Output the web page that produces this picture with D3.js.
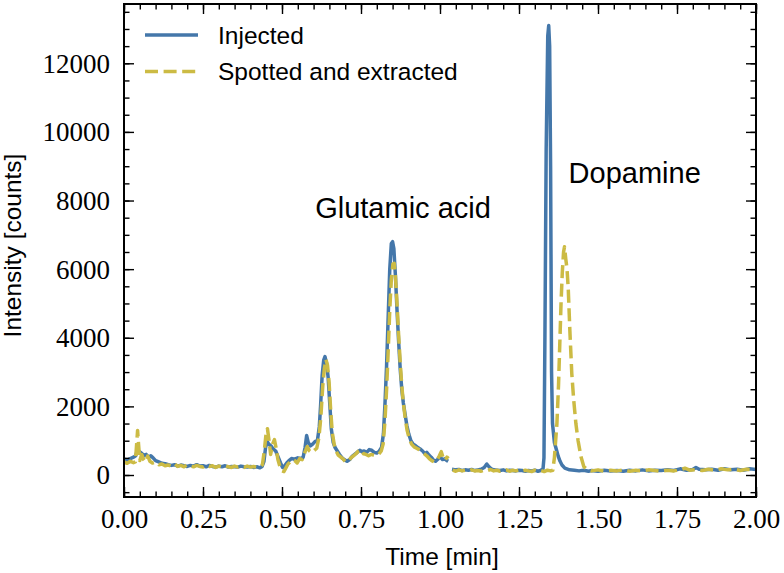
<!DOCTYPE html>
<html>
<head>
<meta charset="utf-8">
<script src="https://cdn.jsdelivr.net/npm/d3@7"></script>
<style>
  html, body { margin: 0; padding: 0; background: #fff; }
  svg { display: block; }
</style>
</head>
<body>
<svg id="chart" width="784" height="573"></svg>
<script>
// ---------- data (time [min], intensity [counts]); null = gap ----------
const seriesNames = ["Injected", "Spotted and extracted"];
const seriesColors = ["#4477AA", "#CCBB44"];
const xTickValues = [0, 0.25, 0.5, 0.75, 1.0, 1.25, 1.5, 1.75, 2.0];
const yTickValues = [0, 2000, 4000, 6000, 8000, 10000, 12000];
const annotations = [
  { text: "Glutamic acid", t: 0.605, v: 7500 },
  { text: "Dopamine", t: 1.407, v: 8520 }
];

const injected = [
  [0.000,460],[0.010,430],[0.020,480],[0.030,520],[0.037,560],[0.042,720],[0.047,700],
  [0.055,640],[0.063,560],[0.070,600],[0.078,520],[0.085,560],[0.092,500],[0.100,420],
  [0.110,380],[0.120,340],[0.130,330],[0.140,300],[0.150,280],[0.160,300],[0.170,260],
  [0.180,290],[0.190,270],[0.200,250],[0.210,280],[0.220,260],[0.230,300],[0.240,260],
  [0.250,270],[0.260,240],[0.270,280],[0.280,250],[0.290,230],[0.300,260],[0.310,240],
  [0.320,270],[0.330,230],[0.340,250],[0.350,240],[0.360,230],[0.370,260],[0.380,240],
  [0.390,230],[0.400,250],[0.410,220],[0.420,240],[0.430,210],[0.437,250],[0.443,400],
  [0.448,800],[0.453,980],[0.458,900],[0.465,850],[0.472,760],[0.480,700],[0.488,520],
  [0.495,360],[0.502,220],[0.508,260],[0.515,350],[0.522,420],[0.530,480],[0.540,460],
  [0.550,500],[0.560,480],[0.567,520],[0.573,800],[0.578,1150],[0.583,950],[0.590,850],
  [0.597,900],[0.605,980],[0.612,1000],[0.618,1400],[0.622,2000],[0.627,2900],[0.632,3350],
  [0.636,3450],[0.641,3250],[0.646,2850],[0.651,2100],[0.656,1350],[0.662,950],[0.668,800],
  [0.675,700],[0.682,600],[0.690,500],[0.698,440],[0.706,400],[0.714,450],[0.722,540],
  [0.730,600],[0.738,660],[0.746,720],[0.753,680],[0.760,700],[0.768,660],[0.776,740],
  [0.784,720],[0.792,660],[0.800,640],[0.808,700],[0.815,800],[0.821,1200],[0.826,2100],
  [0.831,3200],[0.836,4600],[0.841,6000],[0.846,6750],[0.850,6800],[0.854,6600],[0.859,5800],
  [0.864,4800],[0.869,3900],[0.874,3100],[0.879,2500],[0.884,2100],[0.889,1800],[0.895,1450],
  [0.901,1200],[0.908,1000],[0.915,900],[0.922,860],[0.930,800],[0.937,760],[0.945,700],
  [0.952,620],[0.958,660],[0.965,580],[0.972,520],[0.979,440],[0.986,400],[0.993,460],
  [1.000,530],[1.008,450],[1.015,470],[1.022,420],[1.026,400],
  [1.032,null],
  [1.038,170],[1.050,150],[1.060,160],[1.070,130],[1.080,150],[1.090,140],[1.100,160],
  [1.110,130],[1.120,150],[1.130,170],[1.140,220],[1.148,320],[1.155,240],[1.162,180],
  [1.170,150],[1.180,140],[1.190,130],[1.200,150],[1.210,120],[1.220,140],[1.230,130],
  [1.240,120],[1.250,140],[1.260,130],[1.270,110],[1.280,130],[1.290,120],[1.300,140],
  [1.310,110],[1.318,130],[1.326,180],[1.329,500],[1.332,4000],[1.336,9500],[1.341,12800],
  [1.344,13100],[1.347,12500],[1.350,9000],[1.353,3000],[1.356,1500],[1.362,950],
  [1.368,750],[1.374,550],[1.380,400],[1.386,290],[1.395,200],[1.410,150],[1.425,140],
  [1.440,120],[1.455,140],[1.470,110],[1.480,130],[1.500,110],[1.520,140],[1.540,120],
  [1.560,130],[1.580,110],[1.600,140],[1.620,120],[1.640,150],[1.660,120],[1.680,140],
  [1.700,130],[1.720,150],[1.740,130],[1.760,180],[1.780,140],[1.800,160],[1.810,220],
  [1.820,170],[1.840,150],[1.860,170],[1.880,140],[1.900,180],[1.920,150],[1.940,170],
  [1.960,140],[1.980,180],[2.000,160]
];

const spotted = [
  [0.000,380],[0.010,340],[0.020,400],[0.030,360],[0.036,380],[0.040,900],[0.043,1300],
  [0.046,900],[0.050,420],[0.056,600],[0.062,450],[0.068,380],[0.075,550],[0.082,400],
  [0.090,350],[0.100,380],[0.110,300],[0.120,320],[0.130,270],[0.140,290],[0.150,260],
  [0.160,330],[0.170,250],[0.180,280],[0.190,240],[0.200,300],[0.210,260],[0.220,240],
  [0.230,280],[0.240,250],[0.250,230],[0.260,290],[0.270,250],[0.280,270],[0.290,220],
  [0.300,260],[0.310,230],[0.320,270],[0.330,240],[0.340,220],[0.350,260],[0.360,230],
  [0.370,250],[0.380,220],[0.390,260],[0.400,230],[0.410,250],[0.420,220],[0.430,240],
  [0.438,300],[0.444,700],[0.449,1150],[0.454,1350],[0.459,1000],[0.464,600],[0.470,900],
  [0.476,1030],[0.481,800],[0.487,450],[0.494,230],[0.500,120],[0.506,100],[0.512,200],
  [0.519,320],[0.526,380],[0.533,450],[0.540,420],[0.548,350],[0.556,480],[0.564,450],
  [0.572,650],[0.580,830],[0.587,700],[0.594,650],[0.602,720],[0.610,780],[0.617,1100],
  [0.623,1700],[0.629,2600],[0.634,3100],[0.639,3370],[0.644,3200],[0.649,2700],[0.654,1900],
  [0.659,1250],[0.665,900],[0.671,700],[0.678,580],[0.686,520],[0.694,460],[0.702,380],
  [0.710,400],[0.718,500],[0.726,560],[0.734,620],[0.742,700],[0.750,740],[0.758,620],
  [0.766,600],[0.774,560],[0.782,600],[0.790,580],[0.798,560],[0.806,600],[0.814,700],
  [0.820,900],[0.826,1600],[0.831,2500],[0.836,3600],[0.841,4800],[0.846,5700],[0.851,6150],
  [0.855,6170],[0.859,5800],[0.864,5000],[0.869,4100],[0.874,3300],[0.879,2600],[0.884,2100],
  [0.890,1650],[0.896,1300],[0.903,1050],[0.910,900],[0.918,820],[0.926,780],[0.934,740],
  [0.942,680],[0.950,620],[0.958,560],[0.966,480],[0.974,420],[0.982,380],[0.990,420],
  [0.998,560],[1.004,680],[1.010,500],[1.016,420],[1.022,520],[1.027,480],
  [1.033,null],
  [1.040,140],[1.050,110],[1.060,150],[1.070,120],[1.080,140],[1.090,110],[1.100,150],
  [1.110,120],[1.120,130],[1.130,110],[1.140,150],[1.150,130],[1.160,160],[1.170,120],
  [1.180,140],[1.190,110],[1.200,130],[1.210,150],[1.220,110],[1.230,140],[1.240,120],
  [1.250,150],[1.260,110],[1.270,140],[1.280,120],[1.290,100],[1.300,140],[1.310,110],
  [1.320,130],[1.330,100],[1.340,140],[1.350,120],[1.357,140],[1.362,500],[1.366,1000],
  [1.370,1500],[1.375,2600],[1.379,3800],[1.383,5000],[1.387,5900],[1.391,6500],[1.394,6650],
  [1.398,6300],[1.402,6000],[1.406,5400],[1.411,4200],[1.417,2965],[1.423,2200],[1.430,1500],
  [1.437,1000],[1.446,540],[1.455,250],[1.465,160],[1.480,120],[1.500,150],[1.520,110],
  [1.540,140],[1.560,120],[1.580,150],[1.600,110],[1.620,140],[1.640,120],[1.660,150],
  [1.680,130],[1.700,110],[1.720,140],[1.740,120],[1.760,150],[1.775,200],[1.790,140],
  [1.810,160],[1.830,130],[1.850,170],[1.870,140],[1.890,180],[1.910,150],[1.930,170],
  [1.950,130],[1.970,170],[1.990,150],[2.000,180]
];

// ---------- layout ----------
const svg = d3.select("#chart");
const pL = 124, pR = 756, pT = 4, pB = 497;

const x = d3.scaleLinear().domain([0, 2]).range([pL, pR]);
const y = d3.scaleLinear().domain([-641, 13728]).range([pB, pT]);

const serif = "'Liberation Serif', 'DejaVu Serif', serif";
const sans = "'Liberation Sans', Arial, Helvetica, sans-serif";

svg.append("defs").append("clipPath").attr("id", "plotclip")
  .append("rect").attr("x", pL).attr("y", pT)
  .attr("width", pR - pL).attr("height", pB - pT);

// ---------- data lines ----------
const line = d3.line()
  .defined(d => d[1] !== null)
  .x(d => x(d[0]))
  .y(d => y(d[1]))
  .curve(d3.curveLinear);

const plot = svg.append("g").attr("clip-path", "url(#plotclip)");
plot.append("path").datum(injected)
  .attr("d", line).attr("fill", "none")
  .attr("stroke", seriesColors[0]).attr("stroke-width", 3.5)
  .attr("stroke-linejoin", "round").attr("stroke-linecap", "butt");
plot.append("path").datum(spotted)
  .attr("d", line).attr("fill", "none")
  .attr("stroke", seriesColors[1]).attr("stroke-width", 3.5)
  .attr("stroke-dasharray", "13,5.6")
  .attr("stroke-linejoin", "round");

// ---------- axes (inward ticks on all sides) ----------
const xMinor = d3.range(0, 2.0001, 0.05);
const yMinor = d3.range(-500, 13728, 500);

function styleAxis(g) {
  g.select(".domain").remove();
  g.selectAll(".tick line").attr("stroke", "#000").attr("stroke-width", 1.4);
}

// bottom
svg.append("g").attr("transform", `translate(0,${pB})`)
  .call(d3.axisBottom(x).tickValues(xMinor).tickSize(-5.5).tickFormat(""))
  .call(styleAxis);
const xb = svg.append("g").attr("transform", `translate(0,${pB})`)
  .call(d3.axisBottom(x).tickValues(xTickValues).tickSize(-10).tickFormat(d3.format(".2f")))
  .call(styleAxis);
xb.selectAll(".tick text").attr("font-family", serif).attr("font-size", 27)
  .attr("fill", "#000").attr("y", 12).attr("dy", "0.71em");

// top
svg.append("g").attr("transform", `translate(0,${pT})`)
  .call(d3.axisTop(x).tickValues(xMinor).tickSize(-5.5).tickFormat(""))
  .call(styleAxis);
svg.append("g").attr("transform", `translate(0,${pT})`)
  .call(d3.axisTop(x).tickValues(xTickValues).tickSize(-10).tickFormat(""))
  .call(styleAxis);

// left
svg.append("g").attr("transform", `translate(${pL},0)`)
  .call(d3.axisLeft(y).tickValues(yMinor).tickSize(-5.5).tickFormat(""))
  .call(styleAxis);
const yl = svg.append("g").attr("transform", `translate(${pL},0)`)
  .call(d3.axisLeft(y).tickValues(yTickValues).tickSize(-10).tickFormat(d3.format("d")))
  .call(styleAxis);
yl.selectAll(".tick text").attr("font-family", serif).attr("font-size", 27)
  .attr("fill", "#000").attr("x", -14).attr("dy", "0.33em");

// right
svg.append("g").attr("transform", `translate(${pR},0)`)
  .call(d3.axisRight(y).tickValues(yMinor).tickSize(-5.5).tickFormat(""))
  .call(styleAxis);
svg.append("g").attr("transform", `translate(${pR},0)`)
  .call(d3.axisRight(y).tickValues(yTickValues).tickSize(-10).tickFormat(""))
  .call(styleAxis);

// frame
svg.append("rect").attr("x", pL).attr("y", pT)
  .attr("width", pR - pL).attr("height", pB - pT)
  .attr("fill", "none").attr("stroke", "#000").attr("stroke-width", 2);

// ---------- axis labels ----------
svg.append("text").attr("x", (pL + pR) / 2 + 2).attr("y", 565)
  .attr("text-anchor", "middle").attr("font-family", sans).attr("font-size", 24.5)
  .attr("fill", "#000").text("Time [min]");
svg.append("text").attr("transform", `translate(21,${(pT + pB) / 2 - 5}) rotate(-90)`)
  .attr("text-anchor", "middle").attr("font-family", sans).attr("font-size", 24.5)
  .attr("fill", "#000").text("Intensity [counts]");

// ---------- annotations ----------
annotations.forEach(a => {
  svg.append("text").attr("x", x(a.t)).attr("y", y(a.v))
    .attr("font-family", sans).attr("font-size", 29).attr("fill", "#000")
    .text(a.text);
});

// ---------- legend ----------
const legend = svg.append("g");
seriesNames.forEach((name, i) => {
  const ly = 35 + i * 36.5;
  legend.append("line").attr("x1", 145).attr("x2", 198).attr("y1", ly).attr("y2", ly)
    .attr("stroke", seriesColors[i]).attr("stroke-width", 3.5)
    .attr("stroke-dasharray", i === 1 ? "13,5.6" : null);
  legend.append("text").attr("x", 218).attr("y", ly + 8.5)
    .attr("font-family", sans).attr("font-size", 24.5).attr("fill", "#000")
    .text(name);
});
</script>
</body>
</html>
